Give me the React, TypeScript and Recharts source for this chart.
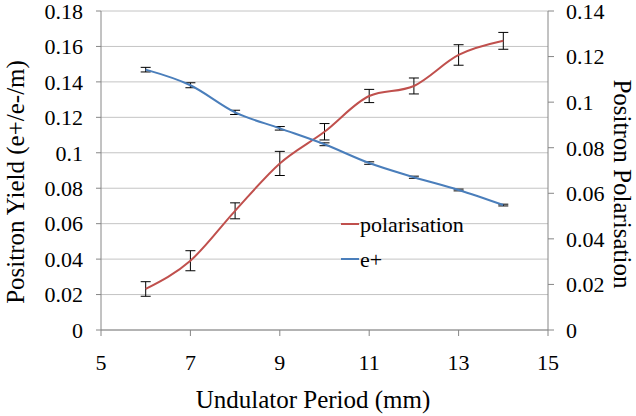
import React from 'react';
import { ComposedChart, Line, XAxis, YAxis, CartesianGrid, ErrorBar, Legend, Label } from 'recharts';

const periods = [6, 7, 8, 9, 10, 11, 12, 13, 14];
const yieldValues = [0.1469, 0.1381, 0.1228, 0.1138, 0.1048, 0.0942, 0.0862, 0.079, 0.0705];
const yieldErrors = [0.0013, 0.0014, 0.0012, 0.001, 0.0008, 0.0007, 0.0006, 0.0005, 0.0005];
const polValues = [0.018, 0.0304, 0.0523, 0.0731, 0.087, 0.1027, 0.1071, 0.1207, 0.1269];
const polErrors = [0.0032, 0.0044, 0.0035, 0.0053, 0.0036, 0.0029, 0.0035, 0.0045, 0.0037];

const xTicks = [5, 7, 9, 11, 13, 15];
const leftTicks = [0, 0.02, 0.04, 0.06, 0.08, 0.1, 0.12, 0.14, 0.16, 0.18];
const rightTicks = [0, 0.02, 0.04, 0.06, 0.08, 0.1, 0.12, 0.14];

const seriesNames = ['polarisation', 'e+'];

const data = periods.map((p, i) => ({
  period: p,
  pol: polValues[i],
  polErr: polErrors[i],
  yield: yieldValues[i],
  yieldErr: yieldErrors[i],
}));

const FONT = 'Liberation Serif, Times New Roman, serif';
const RED = '#c0504d';
const BLUE = '#4a7ebb';
const AXIS = '#868686';
const GRID = '#c4c4c4';
const seriesColors = [RED, BLUE];

const tickStyle = { fontFamily: FONT, fontSize: 22, fill: '#000', style: { fontFamily: FONT } };

const renderLegend = () => (
  <svg width={160} height={70} style={{ display: 'block' }}>
    {seriesNames.map((name, i) => (
      <g key={name}>
        <line x1={0} x2={18} y1={12 + i * 35} y2={12 + i * 35} stroke={seriesColors[i]} strokeWidth={2} />
        <text x={19} y={20 + i * 35} style={{ fontFamily: FONT }} fontSize={22} fill="#000">
          {name}
        </text>
      </g>
    ))}
  </svg>
);

export default function App() {
  return (
    <div style={{ position: 'absolute', left: 0, top: 0, background: '#fff', fontFamily: FONT }}>
      <ComposedChart width={636} height={416} data={data} margin={{ top: 11, right: 0, left: 0, bottom: 0 }}>
        <CartesianGrid yAxisId="left" vertical={false} stroke={GRID} strokeWidth={1} />
        <XAxis
          dataKey="period"
          type="number"
          domain={[5, 15]}
          ticks={xTicks}
          height={86}
          stroke={AXIS}
          tickSize={6}
          tickMargin={18}
          tick={tickStyle}
          tickLine={{ stroke: AXIS }}
          axisLine={{ stroke: AXIS }}
        >
          <Label
            content={() => (
              <text x={313} y={408} textAnchor="middle" style={{ fontFamily: FONT }} fontSize={25} fill="#000">
                Undulator Period (mm)
              </text>
            )}
          />
        </XAxis>
        <YAxis
          yAxisId="left"
          domain={[0, 0.18]}
          ticks={leftTicks}
          width={101}
          tickSize={5}
          tickMargin={13}
          tick={tickStyle}
          stroke={AXIS}
          tickLine={{ stroke: AXIS }}
          axisLine={{ stroke: AXIS }}
          interval={0}
        >
          <Label
            content={() => (
              <text
                x={24}
                y={182}
                transform="rotate(-90 24 182)"
                textAnchor="middle"
                style={{ fontFamily: FONT }}
                fontSize={25}
                fill="#000"
              >
                Positron Yield (e+/e-/m)
              </text>
            )}
          />
        </YAxis>
        <YAxis
          yAxisId="right"
          orientation="right"
          domain={[0, 0.14]}
          ticks={rightTicks}
          width={88}
          tickSize={6}
          tickMargin={12}
          tick={tickStyle}
          stroke={AXIS}
          tickLine={{ stroke: AXIS }}
          axisLine={{ stroke: AXIS }}
          interval={0}
        >
          <Label
            content={() => (
              <text
                x={614}
                y={184}
                transform="rotate(90 614 184)"
                textAnchor="middle"
                style={{ fontFamily: FONT }}
                fontSize={25}
                fill="#000"
              >
                Positron Polarisation
              </text>
            )}
          />
        </YAxis>
        <Legend
          layout="horizontal"
          verticalAlign="middle"
          align="center"
          content={renderLegend}
          wrapperStyle={{ position: 'absolute', left: 341, top: 212, width: 160, height: 70 }}
        />
        <Line
          yAxisId="right"
          dataKey="pol"
          name="polarisation"
          type="monotone"
          stroke={RED}
          strokeWidth={2}
          dot={false}
          isAnimationActive={false}
        >
          <ErrorBar dataKey="polErr" width={5} stroke="#000" strokeWidth={1} direction="y" isAnimationActive={false} />
        </Line>
        <Line
          yAxisId="left"
          dataKey="yield"
          name="e+"
          type="monotone"
          stroke={BLUE}
          strokeWidth={2}
          dot={false}
          isAnimationActive={false}
        >
          <ErrorBar dataKey="yieldErr" width={5} stroke="#000" strokeWidth={1} direction="y" isAnimationActive={false} />
        </Line>
      </ComposedChart>
    </div>
  );
}
